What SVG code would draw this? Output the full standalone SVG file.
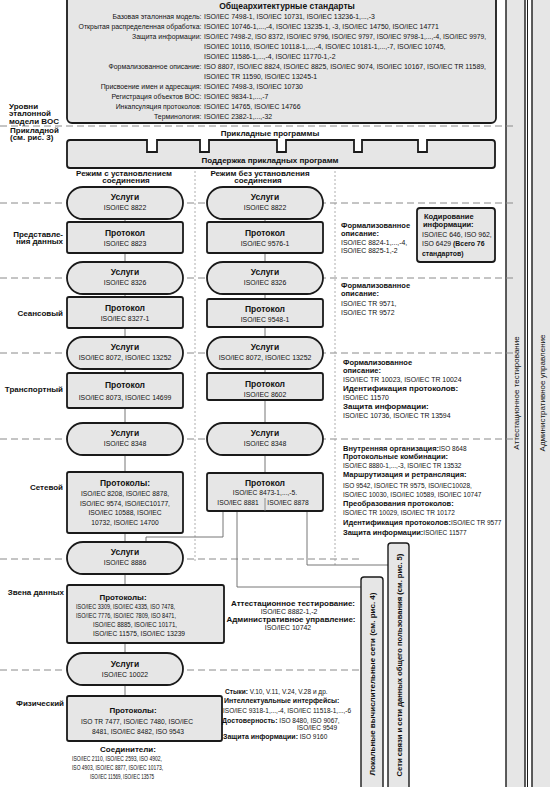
<svg xmlns="http://www.w3.org/2000/svg" width="550" height="787" viewBox="0 0 550 787">
<style>
text{font-family:"Liberation Sans",Arial,sans-serif;fill:#111}
.b{font-weight:bold}
.box{fill:#e6e6e6;stroke:#1a1a1a;stroke-width:1.8}
.bar{fill:#e6e6e6;stroke:#1a1a1a;stroke-width:1.4}
.dash{stroke:#8a8a8a;stroke-width:1;stroke-dasharray:7 4;fill:none}
.dot{stroke:#9a9a9a;stroke-width:0.8;stroke-dasharray:2 2;fill:none}
.conn{stroke:#666;stroke-width:0.9;fill:none}
.m{text-anchor:middle}
.e{text-anchor:end}
.s7{font-size:6.9px}
.h75{font-size:7.5px}
.h8{font-size:8px}
.h85{font-size:8.5px}
</style>
<rect width="550" height="787" fill="#fff"/>

<!-- right full-height bars -->
<g id="bar-attest">
<rect class="bar" x="506" y="-5" width="19" height="800"/>
<text class="h8" transform="translate(519,393) rotate(-90)" text-anchor="middle">Аттестационное тестирование</text>
</g>
<g id="bar-admin">
<line x1="527.5" y1="-5" x2="527.5" y2="795" stroke="#1a1a1a" stroke-width="1"/>
<rect class="bar" x="532" y="-5" width="25" height="800"/>
<text class="h8" transform="translate(545,393) rotate(-90)" text-anchor="middle">Административное управление</text>
</g>

<!-- layer separators -->
<g id="separators">
<line class="dash" x1="0" y1="126" x2="514" y2="126"/>
<line class="dash" x1="0" y1="203" x2="517" y2="203"/>
<line class="dash" x1="0" y1="278" x2="517" y2="278"/>
<line class="dash" x1="0" y1="353" x2="517" y2="353"/>
<line class="dash" x1="0" y1="439" x2="517" y2="439"/>
<line class="dash" x1="0" y1="559" x2="363" y2="559"/>
<line class="dash" x1="0" y1="670" x2="363" y2="670"/>
<line class="dot" x1="195" y1="171" x2="195" y2="562"/>
<line class="dot" x1="335" y1="171" x2="335" y2="565"/>
</g>

<!-- connectors -->
<g id="connectors">
<line class="conn" x1="125" y1="219" x2="125" y2="696"/>
<line class="conn" x1="265" y1="219" x2="265" y2="473"/>
<path class="conn" d="M223,511 V537 H146 V542"/>
<path class="conn" d="M237,511 V587 H361"/>
<path class="conn" d="M307,511 V565 H388"/>
</g>

<!-- general architecture standards -->
<g id="general">
<rect class="box" x="67" y="-8" width="429" height="131" rx="5"/>
<text class="b h85 m" x="287" y="9">Общеархитектурные стандарты</text>
<g class="s7">
<text class="e" x="201.5" y="19">Базовая эталонная модель:</text>
<text x="204" y="19">ISO/IEC 7498-1, ISO/IEC 10731, ISO/IEC 13236-1,...,-3</text>
<text class="e" x="201.5" y="29">Открытая распределенная обработка:</text>
<text x="204" y="29">ISO/IEC 10746-1,...,-4, ISO/IEC 13235-1, -3, ISO/IEC 14750, ISO/IEC 14771</text>
<text class="e" x="201.5" y="38.9">Защита информации:</text>
<text x="204" y="38.9" textLength="282" lengthAdjust="spacingAndGlyphs">ISO/IEC 7498-2, ISO 8372, ISO/IEC 9796,  ISO/IEC 9797,  ISO/IEC 9798-1,...,-4, ISO/IEC 9979,</text>
<text x="204" y="48.8">ISO/IEC 10116,  ISO/IEC 10118-1,...,-4,  ISO/IEC 10181-1,...,-7, ISO/IEC 10745,</text>
<text x="204" y="58.8">ISO/IEC 11586-1,...,-4,  ISO/IEC  11770-1,-2</text>
<text class="e" x="201.5" y="68.7">Формализованное описание:</text>
<text x="204" y="68.7" textLength="282" lengthAdjust="spacingAndGlyphs">ISO 8807,  ISO/IEC 8824,  ISO/IEC 8825,  ISO/IEC 9074,  ISO/IEC 10167, ISO/IEC TR 11589,</text>
<text x="204" y="78.7">ISO/IEC TR 11590, ISO/IEC 13245-1</text>
<text class="e" x="201.5" y="88.6">Присвоение имен и адресация:</text>
<text x="204" y="88.6">ISO/IEC 7498-3, ISO/IEC 10730</text>
<text class="e" x="201.5" y="98.6">Регистрация объектов ВОС:</text>
<text x="204" y="98.6">ISO/IEC 9834-1,...,-7</text>
<text class="e" x="201.5" y="108.5">Инкапсуляция протоколов:</text>
<text x="204" y="108.5">ISO/IEC 14765, ISO/IEC 14766</text>
<text class="e" x="201.5" y="118.5">Терминология:</text>
<text x="204" y="118.5">ISO/IEC 2382-1,...,-32</text>
</g>
</g>

<!-- layer labels -->
<g id="layer-labels" class="b h8">
<text x="9" y="108.5">Уровни</text>
<text x="9" y="116">эталонной</text>
<text x="9" y="123.5">модели ВОС</text>
<text x="10" y="132.5">Прикладной</text>
<text x="10" y="140">(см. рис. 3)</text>
<text class="e" x="63" y="236.5">Представле-</text>
<text class="e" x="63" y="244">ния данных</text>
<text class="e" x="63" y="316">Сеансовый</text>
<text class="e" x="63" y="392">Транспортный</text>
<text class="e" x="63" y="490">Сетевой</text>
<text class="e" x="64" y="595">Звена данных</text>
<text class="e" x="64" y="706">Физический</text>
</g>

<!-- application layer -->
<g id="application">
<text class="b h8 m" x="270" y="136">Прикладные программы</text>
<path class="box" d="M67,143 Q67,140 70,140 H147 V152 H157 V140 H200 V152 H209 V140 H277 V152 H286 V140 H354 V152 H362 V140 H418 V152 H427 V140 H492 Q495,140 495,143 V165 Q495,168 492,168 H70 Q67,168 67,165 Z"/>
<text class="b h8 m" x="270" y="163">Поддержка прикладных программ</text>
</g>

<g id="mode-headers" class="b h8 m">
<text x="124" y="175.5">Режим с установлением</text>
<text x="126" y="183">соединения</text>
<text x="260" y="175.5">Режим без установления</text>
<text x="258" y="183">соединения</text>
</g>

<!-- presentation -->
<g id="svc-pres-co"><rect class="box" x="67" y="187" width="116" height="32" rx="16"/>
<text class="b h85 m" x="125" y="200">Услуги</text><text class="s7 m" x="125" y="210">ISO/IEC 8822</text></g>
<g id="svc-pres-cl"><rect class="box" x="207" y="187" width="116" height="32" rx="16"/>
<text class="b h85 m" x="265" y="200">Услуги</text><text class="s7 m" x="265" y="210">ISO/IEC 8822</text></g>
<g id="prot-pres-co"><rect class="box" x="67" y="222" width="116" height="31" rx="2"/>
<text class="b h85 m" x="125" y="236">Протокол</text><text class="s7 m" x="125" y="246">ISO/IEC 8823</text></g>
<g id="prot-pres-cl"><rect class="box" x="207" y="222" width="116" height="31" rx="2"/>
<text class="b h85 m" x="265" y="236">Протокол</text><text class="s7 m" x="265" y="246">ISO/IEC 9576-1</text></g>

<!-- session -->
<g id="svc-ses-co"><rect class="box" x="67" y="262" width="116" height="32" rx="16"/>
<text class="b h85 m" x="125" y="275">Услуги</text><text class="s7 m" x="125" y="285">ISO/IEC 8326</text></g>
<g id="svc-ses-cl"><rect class="box" x="207" y="262" width="116" height="32" rx="16"/>
<text class="b h85 m" x="265" y="275">Услуги</text><text class="s7 m" x="265" y="285">ISO/IEC 8326</text></g>
<g id="prot-ses-co"><rect class="box" x="67" y="297" width="116" height="31" rx="2"/>
<text class="b h85 m" x="125" y="311">Протокол</text><text class="s7 m" x="125" y="321">ISO/IEC 8327-1</text></g>
<g id="prot-ses-cl"><rect class="box" x="207" y="299" width="116" height="28" rx="2"/>
<text class="b h85 m" x="265" y="312">Протокол</text><text class="s7 m" x="265" y="322">ISO/IEC 9548-1</text></g>

<!-- transport -->
<g id="svc-tr-co"><rect class="box" x="67" y="337" width="116" height="32" rx="16"/>
<text class="b h85 m" x="125" y="350">Услуги</text><text class="s7 m" x="125" y="360">ISO/IEC 8072, ISO/IEC 13252</text></g>
<g id="svc-tr-cl"><rect class="box" x="207" y="337" width="116" height="32" rx="16"/>
<text class="b h85 m" x="265" y="350">Услуги</text><text class="s7 m" x="265" y="360">ISO/IEC 8072, ISO/IEC 13252</text></g>
<g id="prot-tr-co"><rect class="box" x="67" y="373" width="116" height="35" rx="2"/>
<text class="b h85 m" x="125" y="388">Протокол</text><text class="s7 m" x="125" y="400">ISO/IEC 8073, ISO/IEC 14699</text></g>
<g id="prot-tr-cl"><rect class="box" x="207" y="373" width="116" height="27" rx="2"/>
<text class="b h85 m" x="265" y="387">Протокол</text><text class="s7 m" x="265" y="397">ISO/IEC 8602</text></g>

<!-- network -->
<g id="svc-net-co"><rect class="box" x="67" y="423" width="116" height="32" rx="16"/>
<text class="b h85 m" x="125" y="436">Услуги</text><text class="s7 m" x="125" y="446">ISO/IEC 8348</text></g>
<g id="svc-net-cl"><rect class="box" x="207" y="423" width="116" height="32" rx="16"/>
<text class="b h85 m" x="265" y="436">Услуги</text><text class="s7 m" x="265" y="446">ISO/IEC 8348</text></g>
<g id="prot-net-co"><rect class="box" x="67" y="472" width="116" height="61" rx="2"/>
<text class="b h85 m" x="125" y="486">Протоколы:</text>
<g class="m" style="font-size:6.7px">
<text x="125" y="496">ISO/IEC 8208, ISO/IEC 8878,</text>
<text x="125" y="505.5">ISO/IEC 9574, ISO/IEC10177,</text>
<text x="125" y="515">ISO/IEC 10588, ISO/IEC</text>
<text x="125" y="524.5">10732, ISO/IEC 14700</text>
</g></g>
<g id="prot-net-cl"><rect class="box" x="207" y="473" width="116" height="38" rx="2"/>
<text class="b h85 m" x="265" y="486">Протокол</text>
<text class="m" style="font-size:6.7px" x="265" y="495">ISO/IEC 8473-1,...,-5.</text>
<text class="m" style="font-size:6.7px" x="238" y="505">ISO/IEC 8881</text>
<text class="m" style="font-size:6.7px" x="288" y="505">ISO/IEC 8878</text>
<line x1="265" y1="498" x2="265" y2="511" stroke="#777" stroke-width="0.8"/>
</g>

<!-- data link -->
<g id="svc-dl"><rect class="box" x="67" y="542" width="116" height="32" rx="16"/>
<text class="b h85 m" x="125" y="555">Услуги</text><text class="s7 m" x="125" y="565">ISO/IEC 8886</text></g>
<g id="prot-dl"><rect class="box" x="67" y="585" width="157" height="58" rx="2"/>
<text class="b h8 m" x="123" y="600">Протоколы:</text>
<g style="font-size:6.6px">
<text x="76" y="609" textLength="99" lengthAdjust="spacingAndGlyphs">ISO/IEC 3309, ISO/IEC 4335, ISO 7478,</text>
<text x="76" y="618" textLength="100" lengthAdjust="spacingAndGlyphs">ISO/IEC 7776, ISO/IEC 7809, ISO 8471,</text>
<text x="93" y="627" textLength="84" lengthAdjust="spacingAndGlyphs">ISO/IEC 8885, ISO/IEC 10171,</text>
<text x="93" y="636" textLength="92" lengthAdjust="spacingAndGlyphs">ISO/IEC 11575, ISO/IEC 13239</text>
</g></g>

<!-- physical -->
<g id="svc-ph"><rect class="box" x="67" y="653" width="116" height="32" rx="16"/>
<text class="b h85 m" x="125" y="667">Услуги</text><text class="s7 m" x="125" y="677">ISO/IEC 10022</text></g>
<g id="prot-ph"><rect class="box" x="67" y="696" width="155" height="45" rx="2"/>
<text class="b h8 m" x="133" y="713">Протоколы:</text>
<text class="m" style="font-size:6.7px" x="137" y="724">ISO TR 7477, ISO/IEC 7480, ISO/IEC</text>
<text class="m" style="font-size:6.7px" x="138" y="734">8481, ISO/IEC 8482, ISO 9543</text>
</g>
<g id="connectors-std">
<text class="b h8 m" x="128" y="752">Соединители:</text>
<g style="font-size:6.6px">
<text x="72" y="761" textLength="90" lengthAdjust="spacingAndGlyphs">ISO/IEC 2110, ISO/IEC 2593, ISO 4902,</text>
<text x="72" y="770" textLength="91" lengthAdjust="spacingAndGlyphs">ISO 4903, ISO/IEC 8877, ISO/IEC 10173,</text>
<text x="90" y="779" textLength="64" lengthAdjust="spacingAndGlyphs">ISO/IEC 11569, ISO/IEC 13575</text>
</g></g>

<!-- right-hand annotations -->
<g id="note-pres">
<text class="b h75" x="341" y="228">Формализованное</text>
<text class="b h75" x="341" y="236">описание:</text>
<text class="s7" x="341" y="245">ISO/IEC 8824-1,...,-4,</text>
<text class="s7" x="341" y="253">ISO/IEC 8825-1,-2</text>
</g>
<g id="coding">
<rect class="box" x="417" y="208" width="78" height="54" rx="3"/>
<text class="b h75" x="424" y="219">Кодирование</text>
<text class="b h75" x="423" y="227">информации:</text>
<text class="s7" x="422" y="237">ISO/IEC 646, ISO 962,</text>
<text class="s7" x="422" y="246">ISO 6429 <tspan class="b">(Всего 76</tspan></text>
<text class="b s7" x="422" y="256">стандартов)</text>
</g>
<g id="note-ses">
<text class="b h75" x="341" y="288">Формализованное</text>
<text class="b h75" x="341" y="296">описание:</text>
<text class="s7" x="341" y="306">ISO/IEC TR 9571,</text>
<text class="s7" x="341" y="315">ISO/IEC TR 9572</text>
</g>
<g id="note-tr">
<text class="b h75" x="343" y="365">Формализованное</text>
<text class="b h75" x="343" y="373">описание:</text>
<text class="s7" x="343" y="381.5">ISO/IEC TR 10023, ISO/IEC TR 10024</text>
<text class="b h8" x="343" y="391">Идентификация протоколов:</text>
<text class="s7" x="343" y="400">ISO/IEC 11570</text>
<text class="b h8" x="343" y="409">Защита информации:</text>
<text class="s7" x="343" y="418">ISO/IEC 10736, ISO/IEC TR 13594</text>
</g>
<g id="note-net" style="font-size:6.5px">
<text x="343" y="451"><tspan class="b h75">Внутренняя организация:</tspan>ISO 8648</text>
<text class="b h75" x="343" y="459">Протокольные комбинации:</text>
<text x="343" y="468">ISO/IEC 8880-1,...,-3, ISO/IEC TR 13532</text>
<text class="b h75" x="343" y="477">Маршрутизация и ретрансляция:</text>
<text x="343" y="488">ISO 9542, ISO/IEC TR 9575, ISO/IEC10028,</text>
<text x="343" y="497">ISO/IEC 10030, ISO/IEC 10589, ISO/IEC 10747</text>
<text class="b h75" x="343" y="505.5">Преобразования протоколов:</text>
<text x="343" y="515">ISO/IEC TR 10029, ISO/IEC TR 10172</text>
<text x="343" y="524.5"><tspan class="b h75">Идентификация протоколов:</tspan>ISO/IEC TR 9577</text>
<text x="343" y="535"><tspan class="b h75">Защита информации:</tspan>ISO/IEC 11577</text>
</g>
<g id="note-dl">
<text class="b h8 m" x="293" y="606">Аттестационное тестирование:</text>
<text class="s7 m" x="289" y="614">ISO/IEC 8882-1,-2</text>
<text class="b h8 m" x="291" y="622">Административное управление:</text>
<text class="s7 m" x="288" y="630">ISO/IEC 10742</text>
</g>
<g id="note-ph" style="font-size:6.5px">
<text x="225" y="694"><tspan class="b">Стыки:</tspan> V.10, V.11, V.24, V.28 и др.</text>
<text class="b" x="224" y="703" style="font-size:7px">Интеллектуальные интерфейсы:</text>
<text x="223" y="713">ISO/IEC 9318-1,...,-4,  ISO/IEC 11518-1,...,-6</text>
<text x="222" y="722.5"><tspan class="b" style="font-size:7px">Достоверность:</tspan> ISO 8480, ISO 9067,</text>
<text x="297" y="730">ISO/IEC 9549</text>
<text x="223" y="738.5"><tspan class="b" style="font-size:7px">Защита информации:</tspan> ISO 9160</text>
</g>

<!-- network bars -->
<g id="bar-lan">
<rect class="bar" x="361" y="577" width="22" height="230" rx="3"/>
<text class="b h8" transform="translate(375,684) rotate(-90)" text-anchor="middle">Локальные вычислительные сети (см. рис. 4)</text>
</g>
<g id="bar-public">
<rect class="bar" x="388" y="543" width="21" height="260" rx="3"/>
<text class="b" style="font-size:7.6px" transform="translate(401.5,665) rotate(-90)" text-anchor="middle">Сети связи и сети данных общего пользования (см. рис. 5)</text>
</g>
</svg>
